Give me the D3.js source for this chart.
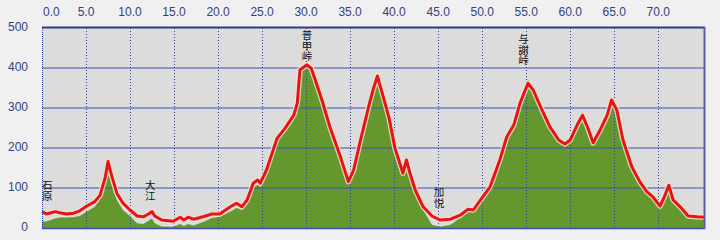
<!DOCTYPE html>
<html>
<head>
<meta charset="utf-8">
<script src="https://cdn.jsdelivr.net/npm/d3@7"></script>
<style>
  body { margin: 0; background: #f0f0f0; }
</style>
</head>
<body>
<div id="my_dataviz"></div>
<script>

// distance (km) / elevation (m)
var km = [0.0, 0.5, 1.5, 2.0, 2.8, 3.6, 4.3, 5.1, 6.0, 6.6, 7.2, 7.5, 7.9, 8.5, 9.2,
          10.0, 10.8, 11.5, 12.1, 12.5, 12.8, 13.6, 14.9, 15.7, 16.1, 16.6, 17.2, 18.3, 19.3,
          20.2, 21.4, 22.1, 22.7, 23.3, 24.0, 24.5, 24.8, 25.5, 26.7, 27.6, 28.6, 29.0, 29.3,
          30.1, 30.6, 31.8, 32.7, 33.9, 34.8, 35.4, 36.1, 37.1, 37.6, 38.1, 38.6, 39.4,
          40.1, 40.7, 41.0, 41.4, 41.8, 42.4, 43.3, 44.3, 45.2, 46.4, 47.5, 48.4, 49.0,
          50.0, 50.9, 52.0, 52.8, 53.6, 54.3, 55.2, 55.8, 56.8, 57.7, 58.7, 59.4,
          60.0, 60.8, 61.4, 62.1, 62.6, 63.4, 64.2, 64.7, 65.3, 66.0, 67.0, 67.9, 68.7, 69.4,
          70.2, 70.7, 71.2, 71.7, 72.5, 73.4, 74.4, 75.2];

// red line
var elev = [41, 35, 41, 38, 35, 37, 43, 55, 66, 82, 128, 166, 132, 87, 62,
            45, 30, 28, 35, 41, 30, 20, 17, 27, 20, 27, 22, 28, 35,
            35, 53, 62, 53, 70, 112, 120, 112, 145, 224, 249, 282, 312, 395,
            408, 399, 320, 253, 178, 116, 145, 212, 303, 345, 380, 341, 278,
            199, 158, 137, 170, 137, 95, 53, 30, 20, 22, 32, 47, 45,
            76, 103, 170, 228, 258, 312, 362, 345, 295, 253, 220, 210,
            220, 258, 282, 245, 213, 245, 282, 320, 295, 220, 153, 116, 91, 78,
            55, 78, 107, 70, 53, 30, 28, 27];

// green fill
var ground = [16, 16, 24, 26, 26, 27, 30, 41, 53, 72, 115, 150, 110, 70, 45,
              30, 12, 10, 18, 24, 12, 4, 3, 10, 5, 10, 6, 15, 25,
              28, 41, 50, 45, 60, 100, 108, 102, 140, 220, 245, 278, 305, 390,
              405, 395, 316, 250, 175, 112, 142, 210, 300, 342, 376, 338, 275,
              196, 155, 134, 180, 134, 90, 45, 8, 3, 8, 25, 40, 40,
              72, 100, 166, 224, 255, 308, 372, 342, 292, 250, 216, 206,
              216, 255, 290, 242, 210, 242, 278, 322, 292, 216, 148, 112, 86, 72,
              48, 72, 100, 65, 46, 24, 23, 22];

var xTicks = [0, 5, 10, 15, 20, 25, 30, 35, 40, 45, 50, 55, 60, 65, 70];
var yTicks = [0, 100, 200, 300, 400, 500];

// place names, km, and the level (m) where the first character sits
var places = ["石原", "大江", "普甲峠", "加悦", "与謝峠"];
var placeKm = [0.6, 12.3, 30.1, 45.1, 54.7];
var placeTop = [120, 120, 495, 102, 485];

var width = 720;
var height = 240;
var margin = {left: 42, right: 16, top: 28, bottom: 12};

var svg = d3.select("#my_dataviz")
  .append("svg")
    .attr("width", width)
    .attr("height", height)
    .style("display", "block");

svg.append("rect").attr("width", width).attr("height", height).attr("fill", "#f0f0f0");

var x = d3.scaleLinear()
  .domain([0, 75.2])
  .range([margin.left, width - margin.right]);

var y = d3.scaleLinear()
  .domain([0, 500])
  .range([height - margin.bottom, margin.top]);

var data = km.map(function(d, i) { return {km: d, e: elev[i], g: ground[i]}; });

// plot background
svg.append("rect")
  .attr("x", x(0)).attr("y", y(500))
  .attr("width", x(75.2) - x(0)).attr("height", y(0) - y(500))
  .attr("fill", "#dcdcdc");

// green area
var area = d3.area()
  .x(function(d) { return x(d.km); })
  .y0(y(0))
  .y1(function(d) { return y(d.g); });

svg.append("path")
  .datum(data)
  .attr("d", area)
  .attr("fill", "#64982f");

// horizontal grid
svg.selectAll("hgrid")
  .data(yTicks.filter(function(d) { return d > 0 && d < 500; }))
  .enter()
  .append("line")
    .attr("x1", x(0)).attr("x2", x(75.2))
    .attr("y1", function(d) { return y(d); })
    .attr("y2", function(d) { return y(d); })
    .attr("stroke", "#3b4fb2")
    .attr("stroke-width", 1.2);

// vertical dotted grid
svg.selectAll("vgrid")
  .data(xTicks.filter(function(d) { return d > 0; }))
  .enter()
  .append("line")
    .attr("x1", function(d) { return Math.round(x(d)) + 0.5; })
    .attr("x2", function(d) { return Math.round(x(d)) + 0.5; })
    .attr("y1", y(500)).attr("y2", y(0))
    .attr("stroke", "#3040a0")
    .attr("stroke-dasharray", "1,2");

// red profile line with light halo
var line = d3.line()
  .x(function(d) { return x(d.km); })
  .y(function(d) { return y(d.e); });

svg.append("path")
  .datum(data)
  .attr("d", line)
  .attr("fill", "none")
  .attr("stroke", "#f3e2c6")
  .attr("stroke-width", 5.5)
  .attr("stroke-linejoin", "round")
  .attr("opacity", 0.85);

svg.append("path")
  .datum(data)
  .attr("d", line)
  .attr("fill", "none")
  .attr("stroke", "#e6141a")
  .attr("stroke-width", 3)
  .attr("stroke-linejoin", "round");

// frame
svg.append("line")
  .attr("x1", x(0)).attr("x2", x(75.2) + 1)
  .attr("y1", y(500) - 0.5).attr("y2", y(500) - 0.5)
  .attr("stroke", "#2e3a8c").attr("stroke-width", 2);
svg.append("line")
  .attr("x1", x(0)).attr("x2", x(75.2) + 1)
  .attr("y1", y(0) + 0.5).attr("y2", y(0) + 0.5)
  .attr("stroke", "#3b4fb2").attr("stroke-width", 1.5);
svg.append("line")
  .attr("x1", x(75.2) + 0.5).attr("x2", x(75.2) + 0.5)
  .attr("y1", y(500) - 1).attr("y2", y(0) + 1)
  .attr("stroke", "#5a5fb0").attr("stroke-width", 2);
svg.append("line")
  .attr("x1", x(0) + 0.5).attr("x2", x(0) + 0.5)
  .attr("y1", y(500)).attr("y2", y(0))
  .attr("stroke", "#3040a0")
  .attr("stroke-dasharray", "1,1");

// top km labels
svg.selectAll("xlabels")
  .data(xTicks)
  .enter()
  .append("text")
    .attr("x", function(d) { return d == 0 ? x(d) + 1 : x(d); })
    .attr("y", 16)
    .attr("text-anchor", function(d) { return d == 0 ? "start" : "middle"; })
    .attr("font-family", "Liberation Sans, sans-serif")
    .attr("font-size", 12)
    .attr("fill", "#36407e")
    .text(function(d) { return d.toFixed(1); });

// left elevation labels
svg.selectAll("ylabels")
  .data(yTicks)
  .enter()
  .append("text")
    .attr("x", 28)
    .attr("y", function(d) { return y(d) + 3; })
    .attr("text-anchor", "end")
    .attr("font-family", "Liberation Sans, sans-serif")
    .attr("font-size", 12)
    .attr("fill", "#36407e")
    .text(function(d) { return d; });

// place names, written top to bottom
svg.selectAll("places")
  .data(places)
  .enter()
  .append("text")
    .attr("x", function(d, i) { return x(placeKm[i]); })
    .attr("y", function(d, i) { return y(placeTop[i]); })
    .style("writing-mode", "vertical-rl")
    .attr("text-anchor", "start")
    .attr("font-family", "Noto Sans CJK JP")
    .attr("font-size", 10.5)
    .attr("fill", "#111")
    .text(function(d) { return d; });

</script>
</body>
</html>
